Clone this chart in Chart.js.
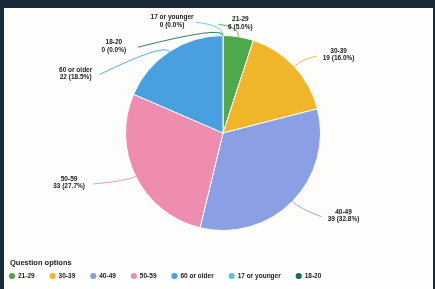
<!DOCTYPE html>
<html><head><meta charset="utf-8">
<script src="https://cdn.jsdelivr.net/npm/chart.js@4/dist/chart.umd.min.js"></script>
<style>
html,body{margin:0;padding:0;width:435px;height:289px;overflow:hidden;background:#1b2a3b;}
#panel{position:absolute;left:4px;top:8px;width:429px;height:281px;background:#fdfdfc;}
#c{position:absolute;left:0;top:0;}
</style></head>
<body>
<div id="panel"></div>
<canvas id="c" width="435" height="289"></canvas>
<script>
const categories = ["21-29","30-39","40-49","50-59","60 or older","17 or younger","18-20"];
const counts = [6,19,39,33,22,0,0];
const percentLabels = ["5.0%","16.0%","32.8%","27.7%","18.5%","0.0%","0.0%"];
const colors = ["#4fa94b","#f0b52a","#8d9fe4","#ef8db1","#4a9fdf","#5cc3ea","#1d6d4f"];
const legendTitle = "Question options";
// label placement style: [angle deg, distance factor]
const labelPlace = [[-81,1.14],[-34,1.43],[34.5,1.5],[162,1.66],[-158,1.63],[-114.5,1.26],[-141.5,1.43]];
const FONT = '"Liberation Sans", Arial, sans-serif';

const labelPlugin = {
  id:'outLabels',
  afterDatasetsDraw(chart){
    const ctx = chart.ctx;
    const meta = chart.getDatasetMeta(0);
    ctx.save();
    meta.data.forEach((arc,i)=>{
      const p = arc.getProps(['x','y','startAngle','endAngle','outerRadius'],true);
      const mid = (p.startAngle+p.endAngle)/2;
      const r = p.outerRadius;
      const ex = p.x + Math.cos(mid)*r, ey = p.y + Math.sin(mid)*r;
      const a = labelPlace[i][0]*Math.PI/180, d = labelPlace[i][1]*r;
      const tx = p.x + Math.cos(a)*d, ty = p.y + Math.sin(a)*d;
      const right = tx > p.x;
      const lx = right ? tx - 22 : tx + 24;
      const ly = ty + 1;
      const bx = p.x + Math.cos(mid)*(r+10), by = p.y + Math.sin(mid)*(r+10);
      ctx.strokeStyle = colors[i];
      ctx.lineWidth = 0.9;
      ctx.beginPath();
      ctx.moveTo(ex,ey);
      ctx.quadraticCurveTo(bx,by,lx,ly);
      ctx.stroke();
      ctx.fillStyle = '#1a1a1a';
      ctx.font = 'bold 6.5px ' + FONT;
      ctx.textAlign = 'center';
      ctx.textBaseline = 'middle';
      ctx.fillText(categories[i], tx, ty-3.6);
      ctx.fillText(counts[i] + ' (' + percentLabels[i] + ')', tx, ty+3.6);
    });
    // custom legend below chart area
    const base = chart.chartArea.bottom;
    ctx.textAlign = 'left';
    ctx.textBaseline = 'middle';
    ctx.fillStyle = '#1a1a1a';
    ctx.font = 'bold 7.5px ' + FONT;
    ctx.fillText(legendTitle, 10, base + 32);
    ctx.font = 'bold 6.5px ' + FONT;
    let x = 12;
    const y = base + 45;
    categories.forEach((c,i)=>{
      ctx.fillStyle = colors[i];
      ctx.beginPath();
      ctx.arc(x, y, 3.1, 0, Math.PI*2);
      ctx.fill();
      ctx.fillStyle = '#1a1a1a';
      ctx.fillText(c, x+6, y+0.5);
      x = x + 6 + ctx.measureText(c).width + 18;
    });
    ctx.restore();
  }
};

new Chart(document.getElementById('c'),{
  type:'pie',
  data:{labels:categories,datasets:[{data:counts,backgroundColor:colors,borderColor:'#ffffff',borderWidth:1}]},
  options:{
    responsive:false,animation:false,
    layout:{padding:{top:35,left:11,right:0,bottom:58}},
    plugins:{tooltip:{enabled:false},legend:{display:false}}
  },
  plugins:[labelPlugin]
});
</script>
</body></html>
